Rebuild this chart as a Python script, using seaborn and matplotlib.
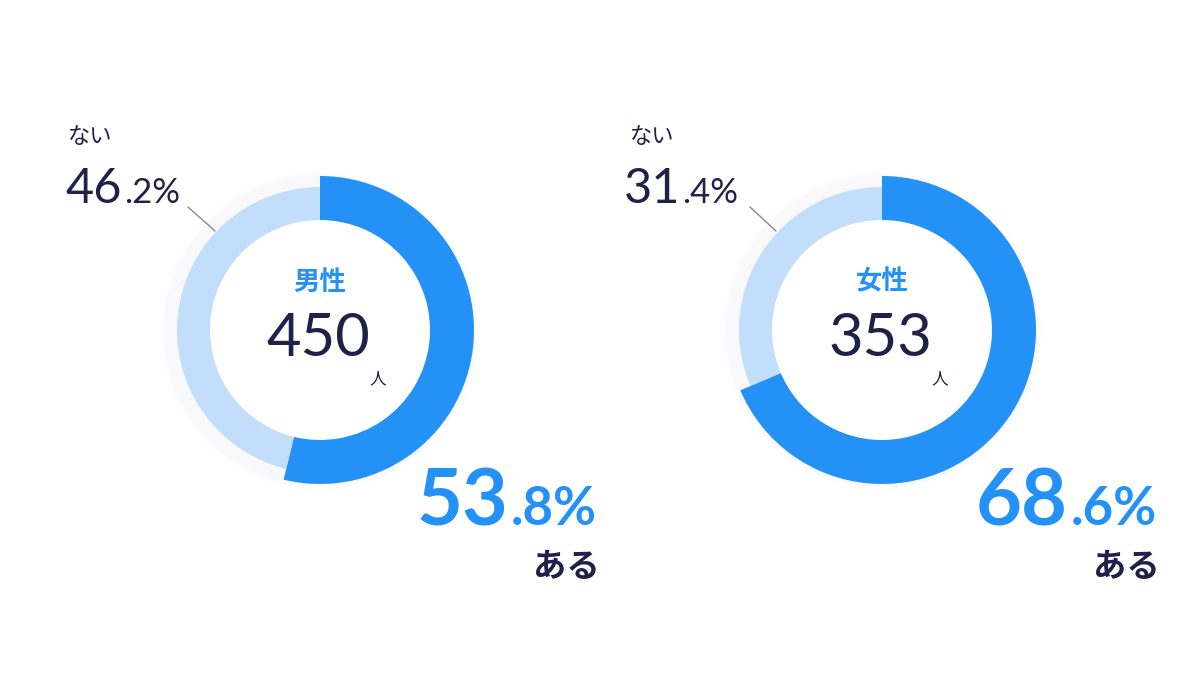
import matplotlib
matplotlib.use('Agg')
import matplotlib.pyplot as plt
import seaborn as sns
from matplotlib.patches import Circle

# ---- data ----
groups = ['男性', '女性']
totals = [450, 353]
yes_pct = [53.8, 68.6]
no_pct = [46.2, 31.4]
yes_label = 'ある'
no_label = 'ない'
unit = '人'

# ---- style ----
sns.set_theme(style='white')
plt.rcParams['font.family'] = ['Lato', 'Noto Sans CJK JP', 'DejaVu Sans']
JP = ['Noto Sans CJK JP', 'DejaVu Sans']
NUM = ['Lato', 'Noto Sans CJK JP', 'DejaVu Sans']
BLUE = '#2391F6'
LIGHT = '#C3DEFA'
NAVY = '#1F2148'

W, H = 1200, 676
fig = plt.figure(figsize=(12, 6.76), dpi=100)
fig.patch.set_facecolor('white')
ax = fig.add_axes([0, 0, 1, 1])


def Y(y):
    return H - y


# layout (pixel positions in image coordinates)
centers = [(320, 330), (882, 330)]
no_left = [68, 630]
no_split = [122, 680]
big_split = [508, 1068]
big_right = [600, 1160]
leaders = [((188, 207), (215, 231)), ((750, 207), (776, 231))]

R_OUT, R_IN = 154, 110
R_LIGHT = 143

for i, g in enumerate(groups):
    cx, cy = centers[i]
    # very soft shadow
    for k, a in [(5, 0.006), (3, 0.008), (1.5, 0.01)]:
        ax.add_patch(Circle((cx, Y(cy) - 1), R_OUT + k, facecolor='#6b7a90',
                            alpha=a, edgecolor='none', zorder=0))
    ax.add_patch(Circle((cx, Y(cy)), R_IN + 1, facecolor='white',
                        edgecolor='none', zorder=0.5))
    wedges, _ = ax.pie([yes_pct[i], no_pct[i]], colors=[BLUE, LIGHT],
                       startangle=90, counterclock=False,
                       center=(cx, Y(cy)), radius=R_OUT,
                       wedgeprops=dict(width=R_OUT - R_IN, linewidth=0))
    wedges[1].set_radius(R_LIGHT)
    wedges[1].set_width(R_LIGHT - R_IN)
    for w in wedges:
        w.set_zorder(2)

    # center labels
    ax.text(cx, Y(282), g, color=BLUE, fontsize=19, fontweight='bold',
            ha='center', va='center', family=JP, zorder=3)
    ax.text(cx - 2, Y(356), f'{totals[i]}', color=NAVY, fontsize=43,
            ha='center', va='baseline', family=NUM, zorder=3)
    ax.text(cx + 58, Y(383), unit, color=NAVY, fontsize=12,
            ha='center', va='baseline', family=JP, zorder=3)

    # "no" label
    ax.text(no_left[i], Y(143), no_label, color=NAVY, fontsize=16,
            ha='left', va='baseline', family=JP, zorder=3)
    ip, dp = f'{no_pct[i]:.1f}'.split('.')
    ax.text(no_split[i], Y(203), ip, color=NAVY, fontsize=35,
            ha='right', va='baseline', family=NUM, zorder=3)
    ax.text(no_split[i] + 2, Y(203), '.' + dp + '%', color=NAVY, fontsize=25,
            ha='left', va='baseline', family=NUM, zorder=3)
    (x0, y0), (x1, y1) = leaders[i]
    ax.plot([x0, x1], [Y(y0), Y(y1)], color='#8a8a8a', lw=1, zorder=3)

    # "yes" label
    ip, dp = f'{yes_pct[i]:.1f}'.split('.')
    ax.text(big_split[i], Y(525), ip, color=BLUE, fontsize=57,
            fontweight='bold', ha='right', va='baseline', family=NUM, zorder=3)
    ax.text(big_split[i] + 3, Y(525), '.' + dp + '%', color=BLUE, fontsize=38,
            fontweight='bold', ha='left', va='baseline', family=NUM, zorder=3)
    ax.text(big_right[i], Y(577), yes_label, color=NAVY, fontsize=24,
            fontweight='bold', ha='right', va='baseline', family=JP, zorder=3)

ax.set_xlim(0, W)
ax.set_ylim(0, H)
ax.set_aspect('equal')
ax.axis('off')

fig.savefig('out.png', dpi=100, facecolor='white')
